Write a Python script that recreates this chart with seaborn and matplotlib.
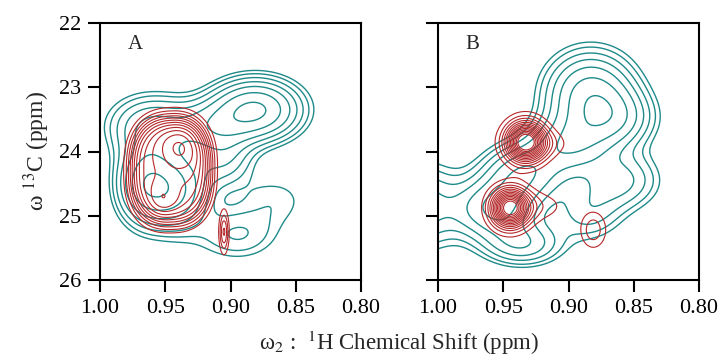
import numpy as np
import matplotlib
matplotlib.use("Agg")
import matplotlib.pyplot as plt
import seaborn as sns

# ---- data: peak components (center ppm 1H, center ppm 13C, width 1H, width 13C, amplitude)
panel_labels = ["A", "B"]
x_ticks = [1.00, 0.95, 0.90, 0.85, 0.80]
y_ticks = [22, 23, 24, 25, 26]

teal_A_x = [0.881, 0.966, 0.942, 0.960, 0.915, 0.905, 0.865, 0.895]
teal_A_y = [23.35, 24.50, 24.60, 23.60, 23.60, 24.10, 24.75, 25.30]
teal_A_sx = [0.022, 0.014, 0.016, 0.022, 0.020, 0.015, 0.020, 0.022]
teal_A_sy = [0.30, 0.40, 0.40, 0.32, 0.25, 0.30, 0.30, 0.28]
teal_A_amp = [0.80, 0.60, 0.55, 0.38, 0.30, 0.25, 0.12, 0.20]

red_A_x = [0.946, 0.939, 0.952, 0.905]
red_A_y = [24.30, 23.92, 24.75, 25.25]
red_A_sx = [0.0316, 0.012, 0.008, 0.0025]
red_A_sy = [0.85, 0.30, 0.20, 0.22]
red_A_amp = [0.68, 0.19, 0.11, 0.30]
red_A_shape = [6, 0, 0, 0]   # 0 = gaussian, >0 = flat-topped exponent

teal_B_x = [0.883, 0.866, 0.900, 0.935, 0.955, 1.020, 0.935, 0.860, 0.885]
teal_B_y = [23.10, 23.50, 23.90, 24.35, 24.90, 24.85, 25.45, 24.45, 24.95]
teal_B_sx = [0.022, 0.020, 0.020, 0.020, 0.020, 0.025, 0.020, 0.020, 0.018]
teal_B_sy = [0.42, 0.30, 0.30, 0.30, 0.30, 0.45, 0.22, 0.30, 0.30]
teal_B_amp = [0.62, 0.40, 0.45, 0.50, 0.55, 0.38, 0.35, 0.30, 0.22]

red_B_x = [0.933, 0.922, 0.945, 0.925, 0.881]
red_B_y = [23.85, 23.88, 24.88, 24.85, 25.22]
red_B_sx = [0.010, 0.016, 0.0095, 0.016, 0.007]
red_B_sy = [0.21, 0.15, 0.20, 0.17, 0.20]
red_B_amp = [1.00, 0.13, 1.00, 0.13, 0.20]
red_B_shape = [0, 0, 0, 0, 0]

teal_levels = [0.10, 0.14, 0.20, 0.28, 0.39, 0.55, 0.77]
red_levels = [0.08, 0.15, 0.22, 0.29, 0.36, 0.43, 0.50, 0.57, 0.64, 0.71, 0.78, 0.85, 0.92]

TEAL = "#1f8a8a"
RED = "#b5282a"

sns.set_theme(style="ticks")
plt.rcParams["font.family"] = ["Liberation Serif", "DejaVu Serif"]
plt.rcParams["mathtext.fontset"] = "stix"

gx = np.linspace(1.05, 0.75, 460)
gy = np.linspace(21.6, 26.4, 460)
GX, GY = np.meshgrid(gx, gy)


def field(xs, ys, sxs, sys_, amps, shapes=None, q=2.0):
    z = np.zeros_like(GX)
    if shapes is None:
        shapes = [0] * len(xs)
    for x0, y0, sx, sy, a, p in zip(xs, ys, sxs, sys_, amps, shapes):
        if p == 0:
            z += a * np.exp(-0.5 * (((GX - x0) / sx) ** 2 + ((GY - y0) / sy) ** 2))
        else:
            r = (np.abs((GX - x0) / sx) ** q + np.abs((GY - y0) / sy) ** q) ** (1 / q)
            z += a * np.exp(-(r ** p))
    return z


fig = plt.figure(figsize=(7.22, 3.58), dpi=100)
axA = fig.add_axes([100 / 722, 1 - 280 / 358, 261 / 722, 257 / 358])
axB = fig.add_axes([438 / 722, 1 - 280 / 358, 261 / 722, 257 / 358])

specs = [
    (axA, (teal_A_x, teal_A_y, teal_A_sx, teal_A_sy, teal_A_amp),
     (red_A_x, red_A_y, red_A_sx, red_A_sy, red_A_amp, red_A_shape)),
    (axB, (teal_B_x, teal_B_y, teal_B_sx, teal_B_sy, teal_B_amp),
     (red_B_x, red_B_y, red_B_sx, red_B_sy, red_B_amp, red_B_shape)),
]

for i, (ax, tspec, rspec) in enumerate(specs):
    zt = field(*tspec)
    zr = field(*rspec, q=2.5)
    ax.contour(GX, GY, zt, levels=teal_levels, colors=TEAL, linewidths=1.0)
    ax.contour(GX, GY, zr, levels=red_levels, colors=RED, linewidths=0.8)
    ax.set_xlim(1.00, 0.80)
    ax.set_ylim(26, 22)
    ax.set_xticks(x_ticks)
    ax.set_xticklabels([f"{v:.2f}" for v in x_ticks])
    ax.set_yticks(y_ticks)
    if i == 0:
        ax.set_yticklabels([str(v) for v in y_ticks])
        ax.set_ylabel(r"ω $^{13}$C (ppm)", fontsize=17, labelpad=5)
    else:
        ax.set_yticklabels([])
    ax.tick_params(direction="out", length=8.5, width=1.5, labelsize=16, pad=5,
                   colors="black")
    for s in ax.spines.values():
        s.set_linewidth(1.5)
        s.set_color("black")
    ax.text(0.105, 0.955, panel_labels[i], transform=ax.transAxes, fontsize=15,
            va="top", ha="left")
    ax.set_facecolor("white")

fig.text(399 / 722, 1 - 343 / 358, r"ω$_2$ :  $^1$H Chemical Shift (ppm)",
         ha="center", va="center", fontsize=16.5)

fig.savefig("out.png", dpi=100, facecolor="white")
